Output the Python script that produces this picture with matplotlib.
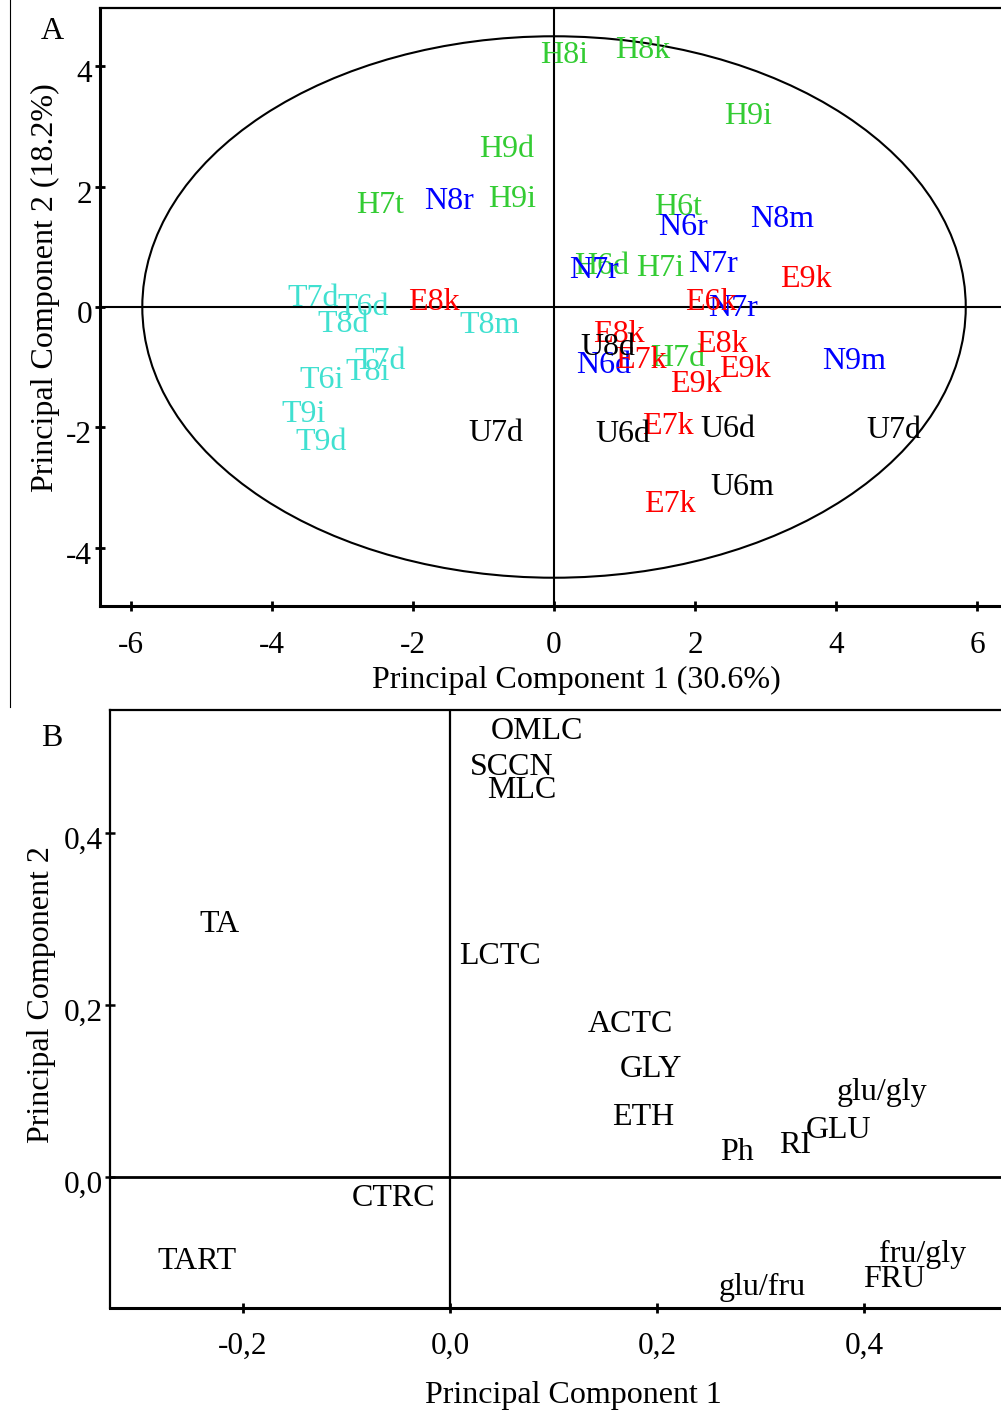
import matplotlib
matplotlib.use("Agg")
import matplotlib.pyplot as plt
from matplotlib.patches import Ellipse
from matplotlib.lines import Line2D
from matplotlib.transforms import ScaledTranslation

plt.rcParams['font.family'] = ['Liberation Serif', 'DejaVu Serif']
plt.rcParams['axes.unicode_minus'] = False

# ---- Panel A: sample scores -------------------------------------------
score_labels = [
    "H8i", "H8k", "H9i", "H9d", "H7t", "H9i", "H6t", "H6d", "H7i", "H7d",
    "N8r", "N6r", "N8m", "N7r", "N7r", "N7r", "N6d", "N9m",
    "E8k", "E9k", "E6k", "E8k", "E7k", "E8k", "E9k", "E9k", "E7k", "E7k",
    "U8d", "U7d", "U6d", "U6d", "U7d", "U6m",
    "T7d", "T6d", "T8d", "T8m", "T7d", "T8i", "T6i", "T9i", "T9d",
]
score_pc1 = [
    0.14, 1.26, 2.75, -0.67, -2.47, -0.60, 1.76, 0.67, 1.50, 1.76,
    -1.49, 1.83, 3.23, 0.57, 2.26, 2.54, 0.71, 4.26,
    -1.70, 3.57, 2.23, 0.92, 1.23, 2.38, 2.70, 2.01, 1.62, 1.65,
    0.77, -0.82, 0.98, 2.47, 4.82, 2.67,
    -3.42, -2.71, -2.99, -0.92, -2.47, -2.64, -3.30, -3.55, -3.30,
]
score_pc2 = [
    4.24, 4.32, 3.22, 2.67, 1.74, 1.84, 1.71, 0.73, 0.70, -0.80,
    1.81, 1.38, 1.51, 0.66, 0.76, 0.03, -0.92, -0.84,
    0.13, 0.51, 0.13, -0.40, -0.83, -0.56, -0.98, -1.23, -1.92, -3.22,
    -0.61, -2.04, -2.06, -1.98, -2.00, -2.94,
    0.20, 0.05, -0.23, -0.25, -0.84, -1.03, -1.17, -1.73, -2.19,
]
group_colors = {"H": "#33cc33", "N": "#0000ff", "E": "#ff0000",
                "U": "#000000", "T": "#40e0d0"}

# Hotelling T2 confidence ellipse half-axes
ellipse_a = 5.84
ellipse_b = 4.50

# ---- Panel B: variable loadings ----------------------------------------
loading_labels = ["OMLC", "SCCN", "MLC", "LCTC", "ACTC", "GLY", "TA",
                  "glu/gly", "ETH", "Ph", "RI", "GLU", "CTRC", "TART",
                  "fru/gly", "FRU", "glu/fru"]
loading_pc1 = [0.084, 0.059, 0.069, 0.048, 0.174, 0.194, -0.223,
               0.417, 0.186, 0.277, 0.333, 0.375, -0.055, -0.244,
               0.456, 0.429, 0.301]
loading_pc2 = [0.522, 0.480, 0.453, 0.261, 0.181, 0.129, 0.298,
               0.102, 0.073, 0.033, 0.041, 0.058, -0.021, -0.094,
               -0.086, -0.115, -0.124]

W, H = 1001, 1412
fig = plt.figure(figsize=(W / 100, H / 100), dpi=100)

def px_rect(left, top, right, bottom):
    return [left / W, 1 - bottom / H, (right - left) / W, (bottom - top) / H]

FS = 23
TFS = 22.5
LBL = 23

# ---------------- Panel A ----------------
axA = fig.add_axes(px_rect(100, 8, 1001, 606))
axA.set_xlim(-6.44, 6.34)
axA.set_ylim(-4.97, 4.97)
axA.spines['right'].set_visible(False)
axA.spines['left'].set_linewidth(2.2)
axA.spines['bottom'].set_linewidth(2.2)
axA.spines['top'].set_linewidth(1.6)
axA.axhline(0, color='black', lw=1.5)
axA.axvline(0, color='black', lw=1.5)
axA.add_patch(Ellipse((0, 0), 2 * ellipse_a, 2 * ellipse_b, fill=False,
                      edgecolor='black', lw=1.5))
for lab, x, y in zip(score_labels, score_pc1, score_pc2):
    axA.text(x, y, lab, color=group_colors[lab[0]], fontsize=LBL,
             ha='center', va='center_baseline')
axA.set_xticks([-6, -4, -2, 0, 2, 4, 6])
axA.set_yticks([-4, -2, 0, 2, 4])
axA.tick_params(axis='x', direction='inout', length=6.5, width=2.0,
                pad=14.5, labelsize=TFS)
axA.tick_params(axis='y', direction='inout', length=6.5, width=2.0,
                pad=2.5, labelsize=TFS)
for t in axA.get_yticklabels():
    t.set_transform(t.get_transform() +
                    ScaledTranslation(0, -0.05, fig.dpi_scale_trans))

fig.text(576 / W, 1 - 680 / H, "Principal Component 1 (30.6%)",
         fontsize=FS, ha='center', va='center')
fig.text(45 / W, 1 - 288 / H, "Principal Component 2 (18.2%)",
         fontsize=FS, ha='center', va='center', rotation=90)
fig.text(52 / W, 1 - 28 / H, "A", fontsize=FS, ha='center',
         va='center_baseline')

# ---------------- Panel B ----------------
axB = fig.add_axes(px_rect(110, 710, 1001, 1308))
axB.set_xlim(-0.3285, 0.532)
axB.set_ylim(-0.152, 0.543)
axB.spines['right'].set_visible(False)
axB.spines['left'].set_linewidth(1.6)
axB.spines['top'].set_linewidth(1.6)
axB.spines['bottom'].set_linewidth(2.2)
axB.axhline(0, color='black', lw=2.0)
axB.axvline(0, color='black', lw=1.6)
for lab, x, y in zip(loading_labels, loading_pc1, loading_pc2):
    axB.text(x, y, lab, color='black', fontsize=LBL,
             ha='center', va='center_baseline')
axB.set_xticks([-0.2, 0.0, 0.2, 0.4])
axB.set_xticklabels(["-0,2", "0,0", "0,2", "0,4"])
axB.set_yticks([0.0, 0.2, 0.4])
axB.set_yticklabels(["0,0", "0,2", "0,4"])
axB.tick_params(axis='x', direction='inout', length=7, width=2.0,
                pad=14, labelsize=TFS)
axB.tick_params(axis='y', direction='inout', length=7, width=1.8,
                pad=1.5, labelsize=TFS)
for t in axB.get_yticklabels():
    t.set_transform(t.get_transform() +
                    ScaledTranslation(0, -0.05, fig.dpi_scale_trans))

fig.text(573 / W, 1 - 1395 / H, "Principal Component 1",
         fontsize=FS, ha='center', va='center')
fig.text(42 / W, 1 - 995 / H, "Principal Component 2",
         fontsize=FS, ha='center', va='center', rotation=90)
fig.text(52 / W, 1 - 735 / H, "B", fontsize=FS, ha='center',
         va='center_baseline')

# thin rule along the left edge of the upper panel
fig.add_artist(Line2D([10 / W, 10 / W], [1.0, 1 - 707 / H],
                      transform=fig.transFigure, color='black', lw=0.8))

fig.savefig("out.png", dpi=100)
